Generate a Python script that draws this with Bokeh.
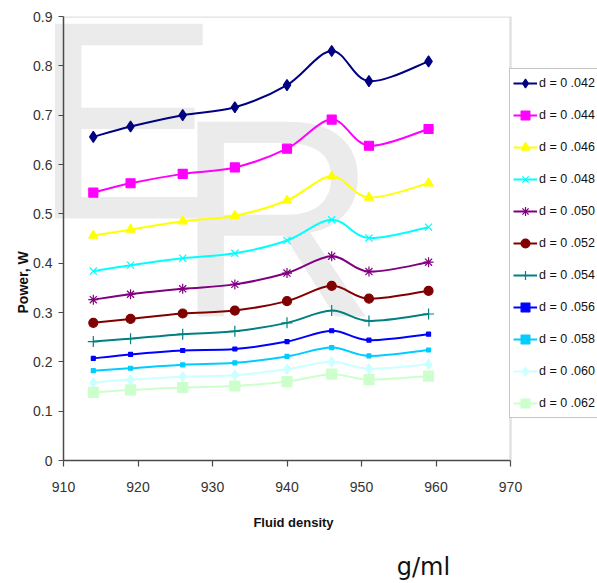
import math
from bokeh.plotting import figure
from bokeh.models import (Range1d, Label, Legend, LegendItem, ColumnDataSource,
                          FixedTicker, Title, LinearAxis, BoxAnnotation)
from bokeh.embed import file_html
from bokeh.resources import INLINE

# ---------------- data ----------------
density = [914, 919, 926, 933, 940, 946, 951, 959]
series_names = ["d = 0 .042", "d = 0 .044", "d = 0 .046", "d = 0 .048", "d = 0 .050",
                "d = 0 .052", "d = 0 .054", "d = 0 .056", "d = 0 .058", "d = 0 .060",
                "d = 0 .062"]
p042 = [0.656, 0.677, 0.700, 0.716, 0.761, 0.830, 0.769, 0.809]
p044 = [0.543, 0.562, 0.581, 0.594, 0.632, 0.691, 0.638, 0.672]
p046 = [0.456, 0.468, 0.485, 0.496, 0.527, 0.576, 0.533, 0.562]
p048 = [0.384, 0.396, 0.410, 0.420, 0.446, 0.488, 0.451, 0.473]
p050 = [0.326, 0.337, 0.348, 0.357, 0.380, 0.414, 0.383, 0.402]
p052 = [0.279, 0.287, 0.298, 0.304, 0.323, 0.354, 0.328, 0.344]
p054 = [0.241, 0.247, 0.256, 0.262, 0.279, 0.304, 0.283, 0.297]
p056 = [0.207, 0.215, 0.223, 0.226, 0.241, 0.263, 0.244, 0.256]
p058 = [0.182, 0.187, 0.194, 0.198, 0.211, 0.229, 0.212, 0.224]
p060 = [0.158, 0.164, 0.170, 0.173, 0.185, 0.200, 0.186, 0.195]
p062 = [0.138, 0.143, 0.148, 0.151, 0.160, 0.175, 0.164, 0.171]
series_values = [p042, p044, p046, p048, p050, p052, p054, p056, p058, p060, p062]
x_ticks = [910, 920, 930, 940, 950, 960, 970]
y_ticks = [0, 0.1, 0.2, 0.3, 0.4, 0.5, 0.6, 0.7, 0.8, 0.9]
x_title = "Fluid density"
y_title = "Power, W"
unit_text = "g/ml"
watermark = ["E", "R"]

# ---------------- styles ----------------
colors = ["#000080", "#FF00FF", "#FFFF00", "#00FFFF", "#800080", "#800000",
          "#008080", "#0000FF", "#00CCFF", "#CCFFFF", "#CCFFCC"]
markers = ["diamond", "square", "triangle", "x", "asterisk", "circle",
           "cross", "square", "square", "diamond", "square"]
msizes = [11, 9, 9, 10, 10, 9, 11, 4, 4, 10, 10]

FONT = "Liberation Sans"
WM_COLOR = "#ebebeb"
WM_SIZE = 283

# plot-area geometry (pixels)
FL, FR, FT, FB = 63, 510, 16, 460
W, H = 597, 583
X0, X1, Y0, Y1 = x_ticks[0], x_ticks[-1], y_ticks[0], y_ticks[-1]
PXX = (X1 - X0) / (FR - FL)          # data units per pixel (x)
PXY = (Y1 - Y0) / (FB - FT)          # data units per pixel (y)


def dx(px):
    return X0 + (px - FL) * PXX


def dy(py):
    return Y0 + (FB - py) * PXY


def smooth_segments(xs, ys):
    n = len(xs)
    seg = dict(x0=[], y0=[], x1=[], y1=[], cx0=[], cy0=[], cx1=[], cy1=[])
    for i in range(n - 1):
        a = max(i - 1, 0)
        d = min(i + 2, n - 1)
        seg["x0"].append(xs[i]); seg["y0"].append(ys[i])
        seg["x1"].append(xs[i + 1]); seg["y1"].append(ys[i + 1])
        seg["cx0"].append(xs[i] + (xs[i + 1] - xs[a]) / 6.0)
        seg["cy0"].append(ys[i] + (ys[i + 1] - ys[a]) / 6.0)
        seg["cx1"].append(xs[i + 1] - (xs[d] - xs[i]) / 6.0)
        seg["cy1"].append(ys[i + 1] - (ys[d] - ys[i]) / 6.0)
    return seg


def label_axis(xpos, text, standoff, font, size, style="normal", color="#111111"):
    # a bare axis whose only label is `text`, used for texts outside the plot area
    return LinearAxis(ticker=FixedTicker(ticks=[xpos]), major_label_overrides={xpos: text},
                      axis_line_color=None, major_tick_line_color=None,
                      minor_tick_line_color=None, major_tick_in=0, major_tick_out=0,
                      major_label_standoff=standoff, major_label_text_font=font,
                      major_label_text_font_size=size, major_label_text_font_style=style,
                      major_label_text_color=color)


# the frame runs to the right edge of the canvas so the legend is not clipped
p = figure(width=W, height=H, output_backend="svg", toolbar_location=None,
           x_range=Range1d(X0, dx(W)), y_range=Range1d(Y0, Y1),
           min_border_left=FL, min_border_right=0,
           min_border_top=FT, min_border_bottom=H - FB)
p.xgrid.visible = False
p.ygrid.visible = False
p.outline_line_color = None
p.background_fill_color = "white"
p.border_fill_color = "white"

# watermark "R" (inside the plot area)
p.add_layout(Label(x=dx(-15 + 0.667 * WM_SIZE), y=dy(218), text=watermark[1], text_font=FONT,
                   text_font_size=f"{WM_SIZE}px", text_color=WM_COLOR,
                   text_baseline="alphabetic", text_align="left", level="underlay"))

# plot-area border (grey, top and right only)
p.add_layout(BoxAnnotation(left=dx(FL - 4), right=X1, bottom=dy(FB + 4), top=Y1, fill_alpha=0,
                           line_color="#9a9a9a", line_width=2.5, level="annotation"))

items = []
for name, vals, col, mk, ms in zip(series_names, series_values, colors, markers, msizes):
    seg = smooth_segments(density, vals)
    bz = p.bezier(source=ColumnDataSource(seg), x0="x0", y0="y0", x1="x1", y1="y1",
                  cx0="cx0", cy0="cy0", cx1="cx1", cy1="cy1", line_color=col, line_width=2,
                  level="annotation")
    sc = p.scatter(x=density, y=vals, marker=mk, size=ms, fill_color=col,
                   line_color=col, line_width=1.2, level="annotation")
    items.append(LegendItem(label=name, renderers=[bz, sc]))

# axes
for ax in (p.xaxis, p.yaxis):
    ax.axis_line_color = "#4a4a4a"
    ax.axis_line_width = 1.5
    ax.major_tick_line_color = "#4a4a4a"
    ax.major_tick_line_width = 1.2
    ax.major_tick_in = 0
    ax.minor_tick_line_color = None
    ax.major_label_text_font = FONT
    ax.major_label_text_font_size = "14px"
    ax.major_label_text_color = "#333333"

p.xaxis.ticker = FixedTicker(ticks=x_ticks)
p.xaxis.bounds = (X0, X1)
p.xaxis.major_tick_out = 6
p.xaxis.major_label_standoff = 15

p.yaxis.ticker = FixedTicker(ticks=y_ticks)
p.yaxis.major_tick_out = 5
p.yaxis.major_label_standoff = 6
p.yaxis.major_label_overrides = {0: "0"}

# y title, anchored at its start (bottom of the rotated text)
p.add_layout(Title(text=y_title, align="left", offset=FB - 313, standoff=0,
                   text_font=FONT, text_font_style="bold", text_font_size="14px",
                   text_color="#111111"), "left")

# x title and unit text below the axis
p.add_layout(label_axis(round(dx(293), 2), x_title, 20, FONT, "13px", "bold"), "below")
p.add_layout(label_axis(round(dx(423), 2), unit_text, 20, "DejaVu Sans", "24px"), "below")

# watermark "E": it runs past the left edge of the plot area, so it is drawn as the
# label of a bare axis (not clipped), pulled back up with a negative standoff;
# its tick must stay inside the x range
e_tick = max(X0 + 0.01, round(dx(-15 + 0.667 * WM_SIZE / 2 - 30), 2))
p.add_layout(label_axis(e_tick, watermark[0], -621,
                        FONT, f"{WM_SIZE}px", color=WM_COLOR), "below")

legend = Legend(items=items, location=(509 - FL, FB - 418), padding=3, spacing=10,
                glyph_height=22, glyph_width=24, label_height=22, label_standoff=2,
                margin=0, border_line_color="#8c8c8c", border_line_width=1,
                background_fill_color="white", background_fill_alpha=1.0,
                label_text_font=FONT, label_text_font_size="12.5px",
                label_text_color="#111111", label_text_baseline="middle")
p.add_layout(legend)

open("out.html", "w").write(file_html(p, INLINE))
